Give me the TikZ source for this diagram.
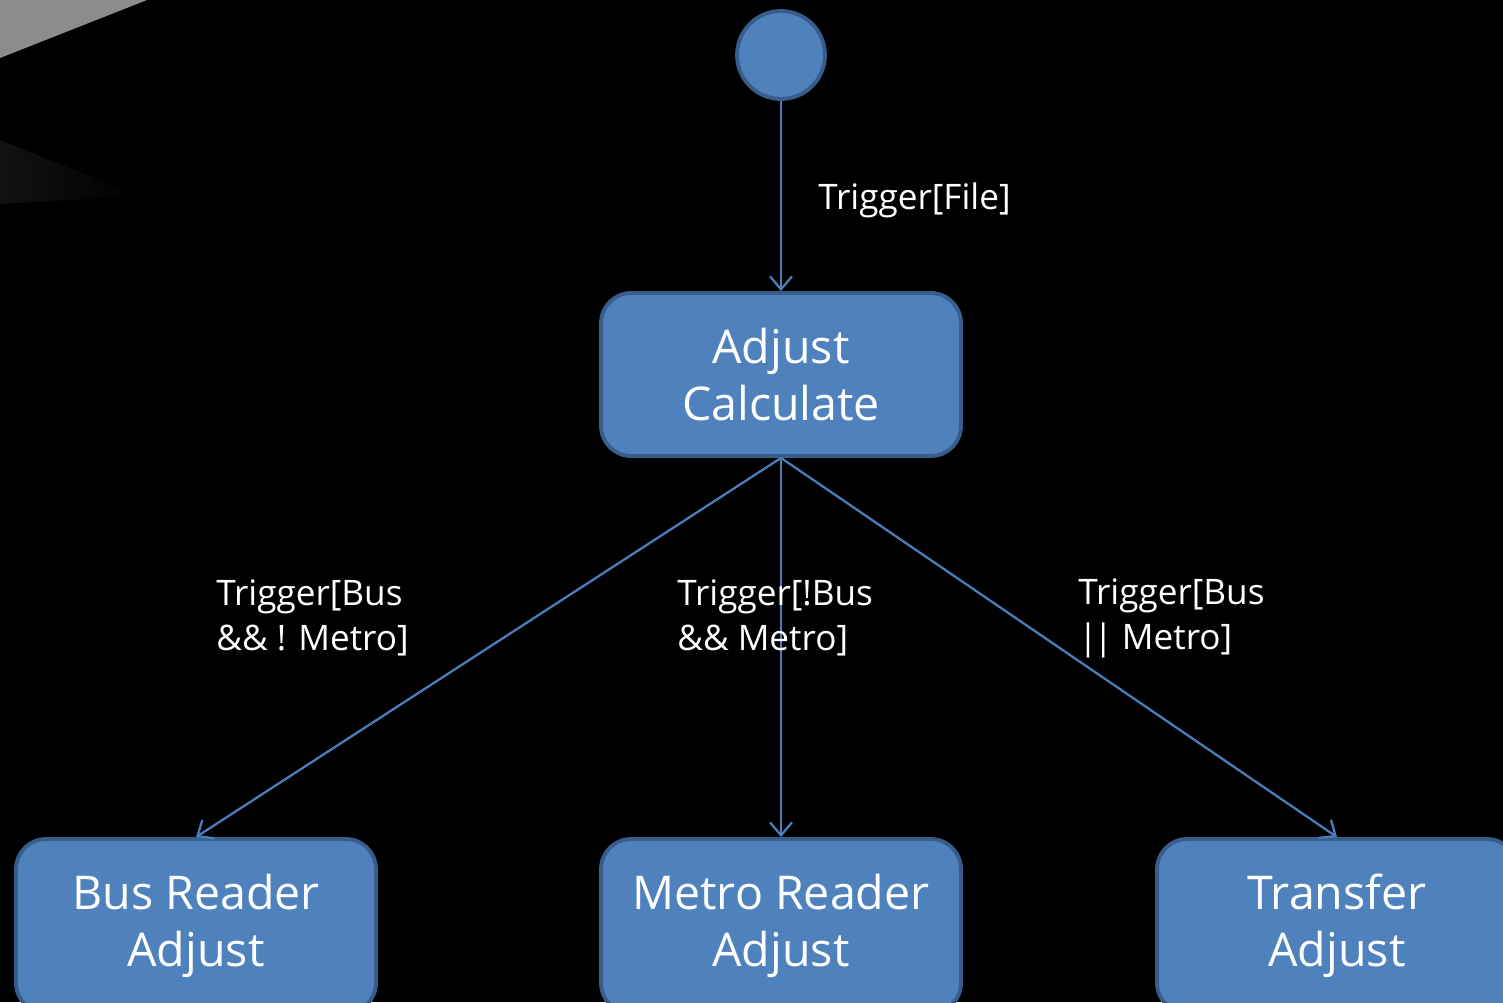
\documentclass[tikz,border=0pt]{standalone}
\usepackage{fontspec}
\setmainfont{Open Sans}
\usepackage{tikz}
\usetikzlibrary{arrows.meta}
\definecolor{boxfill}{HTML}{4F81BD}
\definecolor{boxline}{HTML}{385D8A}
\definecolor{wire}{HTML}{4A7EBB}
\definecolor{slidegrey}{HTML}{8C8C8C}

\begin{document}
\begin{tikzpicture}[x=0.02cm, y=-0.02cm,
	state/.style={fill=boxfill, draw=boxline, line width=2.2pt, rounded corners=0.6cm, minimum width=7.2cm, minimum height=3.26cm, align=center, text=white, font=\fontsize{26.5}{32.3}\selectfont},
	startstate/.style={circle, fill=boxfill, draw=boxline, line width=2.2pt, minimum size=1.76cm, inner sep=0pt},
	guard/.style={anchor=west, align=left, text=white, inner sep=0pt, font=\fontsize{20}{25.5}\selectfont},
	trans/.style={draw=wire, line width=1.3pt, -{Straight Barb[length=0.26cm, width=0.44cm, line width=1.3pt]}}]
			% slide background
			\fill[black] (0,0) rectangle (1503,1002);
			\useasboundingbox (0,0) rectangle (1503,1002);
			\fill[slidegrey] (0,0) -- (147,0) -- (0,58) -- cycle;
			\shade[left color=black!93!white, right color=black] (0,140) -- (140,196) -- (0,204) -- cycle;
			
			\coordinate (c0) at (781,55);
			\coordinate (c1) at (781,374.5);
			\coordinate (c2) at (196,926);
			\coordinate (c3) at (781,926);
			\coordinate (c4) at (1337,926);
			
			\node (start) at (c0) [startstate] {};
			\node (calc) at (c1) [state] {Adjust\\Calculate};
			\node (bus) at (c2) [state, minimum height=3.48cm] {Bus Reader\\Adjust};
			\node (metro) at (c3) [state, minimum height=3.48cm] {Metro Reader\\Adjust};
			\node (transfer) at (c4) [state, minimum height=3.48cm] {Transfer\\Adjust};
			
			\draw[trans] (start.south) -- (calc.north);
			\draw[trans] (calc.south) -- (bus.north);
			\draw[trans] (calc.south) -- (metro.north);
			\draw[trans] (calc.south) -- (transfer.north);
			
			\node (gfile) at (818,200) [guard] {Trigger[File]};
			\node (gbus) at (216,618) [guard] {Trigger[Bus\\\&\& ! Metro]};
			\node (gmetro) at (677,618) [guard] {Trigger[!Bus\\\&\& Metro]};
			\node (gboth) at (1078,618) [guard] {Trigger[Bus\\|\kern-0.12em| Metro]};
		\end{tikzpicture}
\end{document}
